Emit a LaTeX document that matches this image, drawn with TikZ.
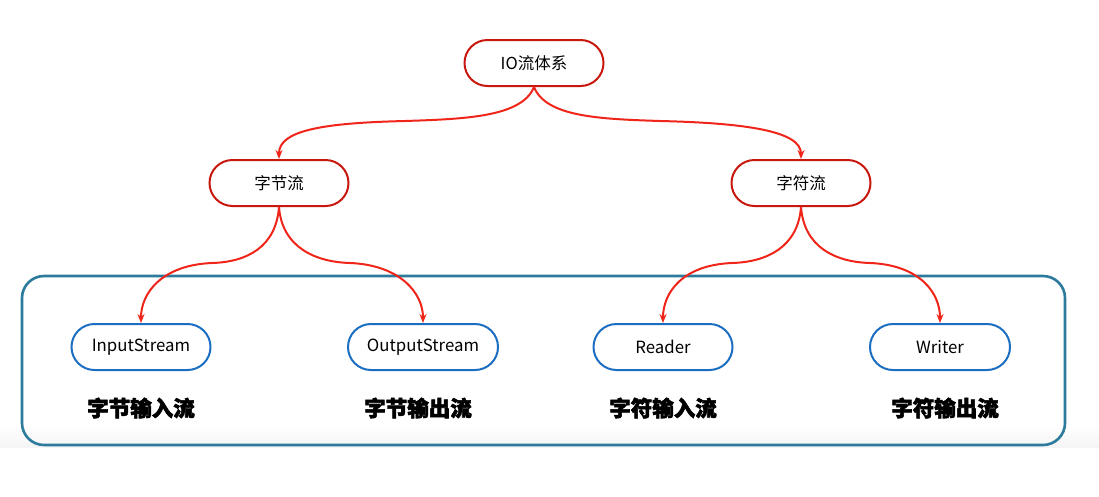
\documentclass[tikz,border=0pt]{standalone}
\usepackage{fontspec}
\setmainfont{Noto Sans}
\newfontfamily\cjk{Noto Sans CJK SC}
\newfontfamily\cjkheavy{Noto Sans CJK SC}[BoldFeatures={FakeBold=2.5}]
\usetikzlibrary{arrows.meta}
\definecolor{nodered}{HTML}{C8180E}
\definecolor{arrred}{HTML}{F0251A}
\definecolor{nodeblue}{HTML}{1B6EC2}
\definecolor{frameblue}{HTML}{2C7B9C}
\tikzset{
  rednode/.style={draw=nodered, line width=2pt, rounded corners=23pt, minimum width=139pt, minimum height=46pt, inner sep=0pt, font=\cjk\fontsize{16.5}{16.5}\selectfont, text=black},
  bluenode/.style={draw=nodeblue, line width=2pt, rounded corners=23pt, minimum height=46pt, inner sep=0pt, font=\cjk\fontsize{16.8}{16.8}\selectfont, text=black},
  heading/.style={font=\cjkheavy\bfseries\fontsize{21.5}{21.5}\selectfont, text=black, inner sep=0pt},
  arr/.style={draw=arrred, line width=2pt, -{Stealth[length=9pt,width=7pt]}},
  frame/.style={draw=frameblue, line width=2.6pt, rounded corners=22pt, minimum width=1043pt, minimum height=169pt, inner sep=0pt}
}
\begin{document}
\begin{tikzpicture}[x=1pt,y=-1pt]
\useasboundingbox (0,0) rectangle (1099,496);
\fill[white] (0,0) rectangle (1099,496);
\shade[top color=white, bottom color=black!4] (0,425) rectangle (1099,447);
% container
\node[frame] (box) at (543.5,360.5) {};
% nodes
\node[rednode] (io) at (534,63) {IO流体系};
\node[rednode] (zj) at (279,183) {字节流};
\node[rednode] (zf) at (801,183) {字符流};
\node[bluenode, minimum width=139pt] (in) at (141,347) {InputStream};
\node[bluenode, minimum width=150pt] (out) at (423,347) {OutputStream};
\node[bluenode, minimum width=139pt] (rd) at (663,347) {Reader};
\node[bluenode, minimum width=140pt] (wr) at (940,347) {Writer};
% headings
\node[heading] (h1) at (141,408) {字节输入流};
\node[heading] (h2) at (418,408) {字节输出流};
\node[heading] (h3) at (663,408) {字符输入流};
\node[heading] (h4) at (945,408) {字符输出流};
% connectors
\draw[arr] (io.south) .. controls +(-12,30) and +(60,-2) .. (405,121) .. controls +(-85,2) and +(0,-28) .. (zj.north);
\draw[arr] (io.south) .. controls +(12,30) and +(-60,-2) .. (660,121) .. controls +(85,2) and +(0,-28) .. (zf.north);
\draw[arr] (zj.south) .. controls +(-3,40) and +(35,-1) .. (212,263) .. controls +(-50,2) and +(0,-30) .. (in.north);
\draw[arr] (zj.south) .. controls +(3,40) and +(-35,-1) .. (350,263) .. controls +(50,2) and +(0,-30) .. (out.north);
\draw[arr] (zf.south) .. controls +(-3,40) and +(35,-1) .. (732,263) .. controls +(-50,2) and +(0,-30) .. (rd.north);
\draw[arr] (zf.south) .. controls +(3,40) and +(-35,-1) .. (870,263) .. controls +(50,2) and +(0,-30) .. (wr.north);
\end{tikzpicture}
\end{document}
